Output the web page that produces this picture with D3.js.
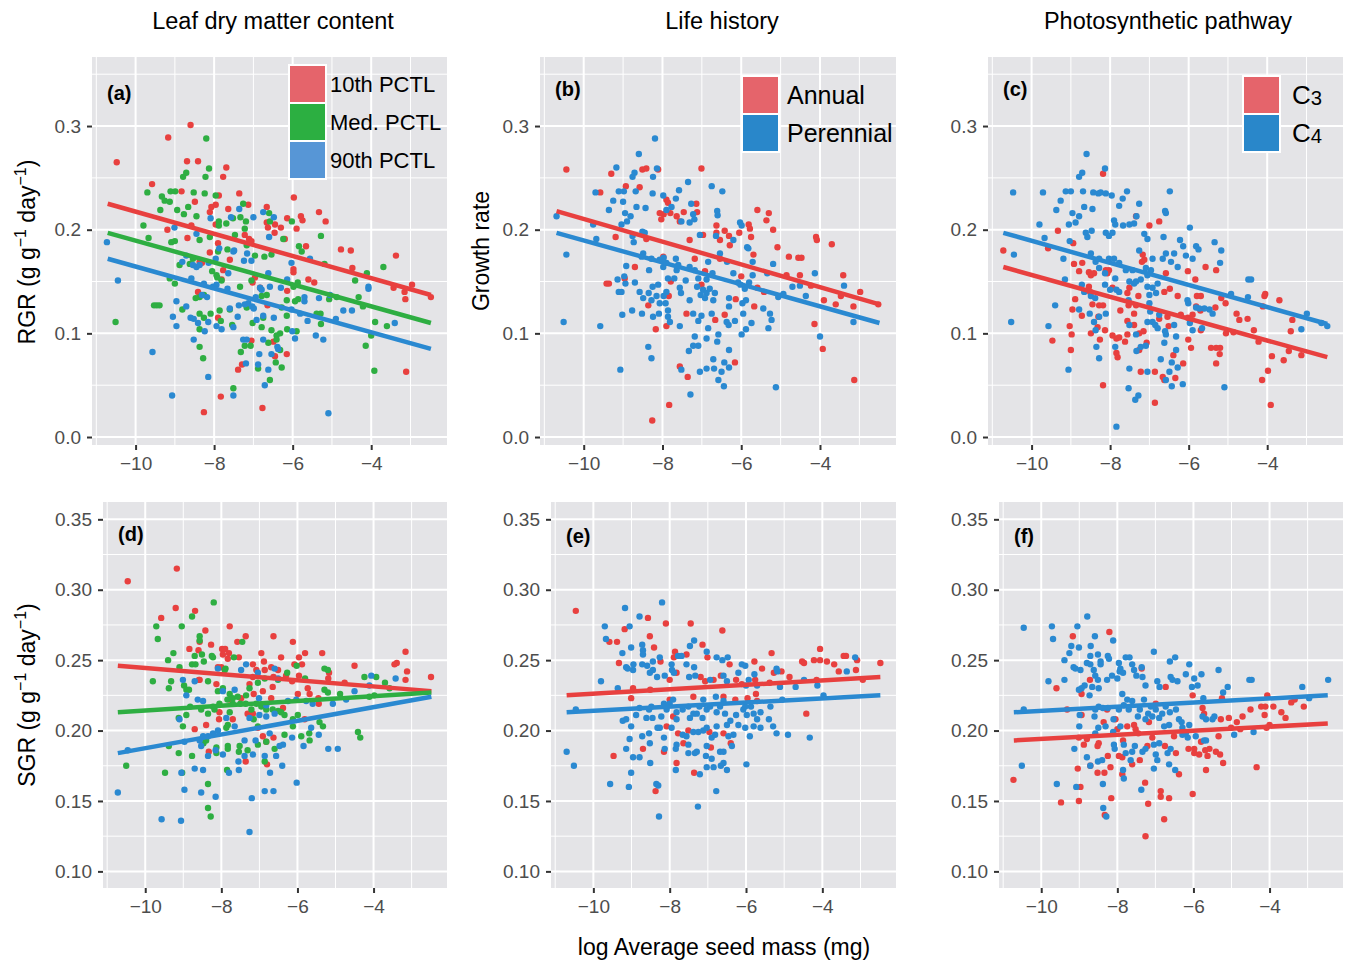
<!DOCTYPE html>
<html>
<head>
<meta charset="utf-8">
<title>Growth rate vs seed mass</title>
<script src="https://d3js.org/d3.v7.min.js"></script>
<style>
  body { margin: 0; background: #fff; }
  text { font-family: "Liberation Sans", Arial, Helvetica, sans-serif; }
</style>
</head>
<body>
<script>
// ---- axes / ticks ----
const xDomain = [-11.11, -2.07];
const topYDomain = [-0.0077, 0.3666];
const botYDomain = [0.0882, 0.3623];
const xTicks = [-10, -8, -6, -4];
const xMinor = [-11, -9, -7, -5, -3];
const topYTicks = [0.0, 0.1, 0.2, 0.3];
const topYMinor = [0.05, 0.15, 0.25, 0.35];
const botYTicks = [0.10, 0.15, 0.20, 0.25, 0.30, 0.35];
const botYMinor = [0.125, 0.175, 0.225, 0.275, 0.325];

const colTitles = ["Leaf dry matter content", "Life history", "Photosynthetic pathway"];
const ldmcLabels = ["10th PCTL", "Med. PCTL", "90th PCTL"];
const lifeLabels = ["Annual", "Perennial"];
const pathLabels = [["C", "3"], ["C", "4"]];

// ---- (a) RGR by LDMC ----
const rgrLdmc10 = [[-10.48,.265],[-8.60,.301],[-9.17,.289],[-8.69,.266],[-8.41,.266],[-7.69,.260],[-7.77,.251],[-9.58,.244],[-8.83,.237],[-7.88,.233],[-7.36,.235],[-7.13,.224],[-6.66,.222],[-8.49,.227],[-8.07,.222],[-7.96,.224],[-7.64,.220],[-8.11,.217],[-5.97,.231],[-5.33,.217],[-5.16,.208],[-5.79,.213],[-5.75,.209],[-5.90,.201],[-6.14,.211],[-6.66,.207],[-6.45,.205],[-6.30,.202],[-6.63,.202],[-6.46,.197],[-6.20,.191],[-9.19,.200],[-8.58,.204],[-7.96,.205],[-7.22,.195],[-7.11,.191],[-7.05,.189],[-7.90,.187],[-8.11,.178],[-5.66,.184],[-4.77,.181],[-4.52,.180],[-3.37,.175],[-4.48,.163],[-5.98,.162],[-5.98,.159],[-7.77,.161],[-7.81,.152],[-7.60,.171],[-8.31,.168],[-5.60,.152],[-5.45,.149],[-3.43,.144],[-3.15,.140],[-2.96,.147],[-3.13,.133],[-2.48,.135],[-8.41,.140],[-7.02,.149],[-6.96,.154],[-6.83,.144],[-6.14,.141],[-6.64,.127],[-7.90,.115],[-7.05,.093],[-6.49,.092],[-6.45,.078],[-6.15,.080],[-7.39,.065],[-7.29,.070],[-7.83,.039],[-8.26,.024],[-6.77,.028],[-3.11,.063],[-8.68,.192],[-8.37,.169]];
const rgrLdmcMed = [[-8.20,.288],[-8.13,.259],[-8.22,.251],[-8.71,.255],[-8.79,.251],[-9.70,.236],[-9.33,.232],[-9.26,.228],[-9.13,.227],[-9.11,.237],[-8.99,.237],[-8.94,.219],[-8.77,.215],[-8.66,.222],[-8.52,.236],[-8.24,.235],[-7.96,.233],[-8.45,.213],[-9.37,.219],[-9.80,.204],[-9.67,.192],[-9.09,.188],[-9.00,.189],[-8.37,.190],[-8.11,.193],[-7.88,.208],[-7.88,.204],[-7.69,.206],[-7.52,.211],[-7.33,.212],[-7.19,.208],[-7.22,.201],[-7.26,.225],[-6.60,.216],[-6.58,.208],[-6.02,.208],[-5.28,.194],[-6.24,.191],[-5.84,.184],[-5.77,.179],[-5.19,.167],[-3.69,.164],[-4.11,.158],[-4.41,.151],[-4.32,.135],[-4.21,.126],[-3.90,.111],[-3.60,.107],[-4.14,.088],[-4.00,.098],[-3.92,.064],[-5.28,.109],[-5.39,.119],[-5.29,.119],[-5.07,.133],[-4.88,.135],[-5.87,.149],[-5.98,.145],[-5.86,.133],[-5.94,.131],[-6.15,.132],[-6.28,.125],[-6.15,.117],[-6.14,.104],[-5.90,.102],[-6.54,.103],[-6.32,.100],[-6.41,.098],[-6.62,.091],[-6.41,.094],[-6.32,.084],[-6.88,.066],[-6.43,.072],[-6.28,.067],[-6.58,.055],[-7.51,.047],[-7.32,.082],[-7.22,.088],[-7.07,.088],[-6.79,.106],[-6.75,.115],[-7.02,.110],[-7.17,.125],[-7.34,.145],[-7.05,.151],[-6.79,.136],[-6.66,.137],[-6.72,.174],[-6.54,.176],[-6.96,.175],[-7.17,.185],[-7.47,.195],[-7.66,.181],[-7.90,.179],[-8.05,.160],[-7.94,.156],[-7.81,.151],[-7.92,.154],[-8.54,.172],[-8.62,.167],[-8.88,.166],[-9.13,.153],[-9.00,.148],[-9.53,.127],[-9.46,.127],[-9.39,.127],[-10.51,.111],[-8.81,.123],[-8.37,.135],[-8.26,.137],[-8.37,.119],[-8.26,.115],[-8.09,.119],[-7.86,.122],[-7.83,.112],[-7.60,.123],[-7.54,.108],[-8.37,.104],[-8.37,.087],[-8.28,.076],[-8.47,.134]];
const rgrLdmc90 = [[-10.73,.188],[-10.45,.151],[-9.57,.082],[-9.07,.040],[-9.01,.202],[-8.45,.196],[-8.09,.211],[-7.57,.212],[-7.36,.220],[-7.00,.212],[-6.75,.217],[-6.48,.212],[-6.60,.193],[-7.87,.182],[-7.51,.179],[-7.49,.180],[-7.16,.177],[-7.24,.170],[-7.05,.170],[-7.96,.172],[-8.71,.175],[-8.81,.169],[-8.54,.166],[-8.45,.164],[-8.37,.166],[-8.14,.168],[-7.64,.158],[-6.62,.158],[-6.03,.168],[-5.56,.172],[-6.30,.144],[-6.14,.152],[-6.83,.144],[-6.79,.142],[-6.58,.145],[-6.94,.135],[-7.13,.129],[-7.22,.128],[-7.03,.126],[-6.99,.124],[-7.37,.127],[-7.40,.116],[-6.92,.113],[-6.75,.117],[-6.48,.115],[-6.03,.123],[-5.81,.119],[-5.70,.131],[-5.70,.135],[-5.62,.112],[-5.33,.134],[-5.05,.137],[-4.71,.122],[-4.49,.122],[-4.90,.114],[-4.07,.145],[-4.07,.143],[-3.40,.110],[-5.22,.094],[-5.41,.098],[-6.01,.102],[-5.94,.095],[-6.37,.085],[-6.39,.087],[-6.54,.080],[-6.75,.094],[-7.26,.094],[-7.17,.094],[-6.85,.080],[-6.88,.070],[-7.19,.071],[-6.62,.065],[-6.71,.050],[-5.09,.023],[-7.51,.040],[-8.15,.058],[-8.52,.094],[-8.24,.102],[-8.15,.111],[-8.60,.115],[-8.52,.114],[-8.41,.110],[-8.31,.137],[-8.18,.135],[-8.71,.126],[-8.96,.131],[-9.05,.116],[-8.96,.107],[-7.94,.107],[-7.81,.104],[-7.94,.147],[-8.03,.145],[-7.66,.143],[-7.60,.124],[-7.51,.106],[-8.58,.153],[-8.26,.148]];

// ---- (b) RGR by life history ----
const rgrAnnual = [[-10.44,.258],[-9.30,.254],[-9.58,.236],[-8.93,.242],[-8.58,.241],[-8.51,.258],[-8.41,.259],[-8.11,.258],[-7.01,.259],[-7.90,.229],[-7.86,.226],[-8.07,.216],[-7.97,.215],[-7.80,.216],[-7.64,.213],[-7.46,.217],[-7.14,.225],[-7.12,.217],[-8.03,.210],[-7.56,.208],[-5.59,.219],[-5.30,.216],[-5.36,.209],[-5.19,.200],[-5.81,.205],[-5.78,.201],[-5.75,.193],[-6.05,.197],[-6.42,.199],[-6.31,.194],[-6.63,.204],[-6.63,.197],[-6.97,.195],[-5.69,.176],[-5.08,.183],[-4.79,.174],[-4.55,.173],[-4.47,.173],[-4.10,.193],[-4.08,.190],[-3.70,.186],[-3.41,.156],[-2.98,.140],[-3.47,.136],[-3.15,.126],[-2.52,.128],[-3.60,.128],[-3.90,.132],[-4.51,.156],[-4.85,.156],[-4.23,.146],[-4.14,.109],[-3.93,.085],[-3.13,.055],[-5.59,.144],[-5.42,.140],[-5.67,.126],[-6.00,.155],[-6.14,.133],[-6.42,.118],[-6.66,.113],[-6.16,.072],[-6.54,.190],[-6.54,.172],[-6.29,.185],[-7.18,.172],[-7.01,.147],[-6.92,.160],[-7.31,.190],[-7.39,.119],[-7.56,.068],[-7.36,.058],[-7.83,.031],[-8.26,.016],[-8.17,.104],[-7.90,.107],[-7.84,.136],[-7.79,.150],[-7.98,.174],[-8.70,.164],[-9.19,.193],[-9.42,.148],[-9.36,.148],[-8.96,.153],[-8.36,.127],[-8.41,.191]];
const rgrPerennial = [[-10.69,.213],[-10.44,.176],[-10.51,.111],[-9.76,.205],[-9.68,.191],[-9.70,.236],[-9.58,.107],[-9.36,.219],[-9.17,.260],[-9.25,.228],[-9.11,.237],[-8.98,.237],[-9.00,.227],[-8.95,.216],[-9.04,.205],[-8.90,.208],[-8.81,.213],[-8.76,.251],[-8.71,.255],[-8.60,.273],[-8.68,.237],[-8.66,.222],[-8.76,.194],[-8.73,.188],[-8.51,.198],[-8.45,.197],[-8.43,.221],[-8.24,.251],[-8.19,.288],[-8.14,.259],[-8.25,.235],[-7.98,.233],[-7.90,.219],[-7.77,.222],[-7.66,.230],[-7.58,.238],[-7.35,.246],[-7.27,.225],[-7.22,.215],[-7.52,.208],[-7.31,.207],[-7.19,.210],[-7.05,.195],[-6.75,.242],[-6.48,.237],[-6.61,.218],[-6.60,.214],[-6.64,.194],[-6.20,.190],[-6.03,.207],[-5.99,.204],[-5.85,.183],[-5.82,.182],[-5.71,.169],[-5.19,.167],[-5.34,.158],[-5.71,.156],[-5.80,.149],[-5.91,.143],[-6.02,.147],[-6.08,.149],[-6.20,.158],[-6.36,.169],[-6.54,.177],[-6.84,.169],[-6.73,.158],[-6.88,.152],[-7.09,.153],[-7.18,.161],[-7.31,.164],[-7.41,.151],[-7.56,.144],[-7.31,.132],[-7.12,.145],[-6.97,.142],[-6.88,.139],[-6.80,.143],[-6.67,.139],[-7.03,.137],[-6.92,.134],[-6.71,.132],[-6.31,.134],[-6.31,.126],[-5.97,.129],[-5.88,.132],[-5.95,.119],[-5.74,.110],[-5.88,.104],[-5.99,.099],[-6.16,.112],[-6.37,.111],[-6.32,.108],[-6.58,.099],[-6.61,.092],[-6.84,.105],[-6.88,.095],[-6.75,.119],[-7.01,.117],[-7.09,.112],[-7.22,.119],[-7.18,.097],[-7.09,.088],[-7.22,.088],[-7.33,.083],[-6.71,.075],[-6.88,.066],[-6.69,.066],[-6.58,.055],[-6.50,.063],[-6.44,.049],[-6.31,.084],[-6.31,.067],[-6.43,.072],[-7.05,.063],[-7.29,.041],[-7.52,.065],[-7.56,.107],[-7.81,.111],[-7.86,.116],[-7.86,.122],[-7.92,.129],[-7.97,.136],[-8.07,.129],[-8.15,.136],[-8.35,.139],[-8.28,.132],[-8.24,.116],[-8.09,.119],[-8.52,.119],[-8.77,.122],[-9.02,.118],[-9.04,.140],[-8.94,.148],[-8.97,.155],[-8.70,.149],[-8.58,.140],[-8.49,.134],[-8.53,.174],[-8.49,.177],[-8.28,.172],[-8.07,.171],[-7.98,.164],[-7.90,.168],[-8.34,.161],[-8.25,.145],[-8.11,.147],[-7.86,.153],[-7.90,.140],[-7.70,.153],[-7.64,.161],[-7.60,.166],[-7.53,.139],[-7.66,.172],[-8.92,.165],[-9.14,.152],[-9.11,.140],[-9.07,.065],[-8.36,.087],[-8.28,.076],[-7.97,.173],[-5.06,.135],[-4.93,.138],[-4.70,.145],[-4.51,.146],[-4.36,.136],[-4.13,.158],[-3.39,.146],[-3.15,.111],[-4.00,.097],[-5.12,.048],[-5.44,.124],[-5.27,.119],[-5.23,.113],[-5.31,.105]];

// ---- (c) RGR by photosynthetic pathway ----
const rgrC3 = [[-10.72,.180],[-9.58,.182],[-9.33,.199],[-9.47,.093],[-9.03,.107],[-8.98,.099],[-9.00,.084],[-8.96,.123],[-8.92,.167],[-8.79,.160],[-8.71,.168],[-8.72,.117],[-8.89,.133],[-8.94,.187],[-8.54,.159],[-8.49,.156],[-8.41,.158],[-8.54,.145],[-8.51,.140],[-8.45,.128],[-8.28,.127],[-8.18,.127],[-8.49,.100],[-8.32,.106],[-8.26,.094],[-8.30,.116],[-8.13,.103],[-8.18,.050],[-8.11,.161],[-8.07,.158],[-8.03,.161],[-8.18,.254],[-7.94,.144],[-7.74,.122],[-7.94,.098],[-7.84,.095],[-7.77,.096],[-7.84,.081],[-7.81,.077],[-7.62,.092],[-7.56,.099],[-7.56,.112],[-7.53,.127],[-7.34,.127],[-7.39,.119],[-7.39,.108],[-7.56,.139],[-7.51,.144],[-7.34,.213],[-7.28,.136],[-7.17,.176],[-7.19,.169],[-7.13,.171],[-7.00,.204],[-6.75,.208],[-7.26,.100],[-7.15,.102],[-7.07,.091],[-7.26,.084],[-7.22,.063],[-6.86,.063],[-6.86,.033],[-6.66,.058],[-6.62,.055],[-6.75,.114],[-6.62,.140],[-6.58,.158],[-6.54,.116],[-6.48,.143],[-6.51,.107],[-6.28,.136],[-6.20,.118],[-6.39,.079],[-6.14,.071],[-6.34,.057],[-6.02,.160],[-6.01,.094],[-5.94,.086],[-6.02,.115],[-5.90,.118],[-5.83,.152],[-5.79,.136],[-5.69,.136],[-5.81,.126],[-5.70,.122],[-5.69,.103],[-5.57,.164],[-5.30,.161],[-5.43,.086],[-5.30,.086],[-5.20,.086],[-5.30,.071],[-5.21,.080],[-5.32,.125],[-5.17,.134],[-5.06,.129],[-5.05,.100],[-4.86,.101],[-4.78,.119],[-4.71,.113],[-4.50,.114],[-4.34,.103],[-4.22,.092],[-4.11,.126],[-4.07,.136],[-4.05,.138],[-4.13,.055],[-3.98,.064],[-3.91,.031],[-3.88,.078],[-3.69,.132],[-3.58,.074],[-3.45,.083],[-3.40,.102],[-3.36,.113],[-3.13,.079]];
const rgrC4 = [[-10.47,.236],[-10.45,.176],[-10.52,.111],[-9.80,.205],[-9.67,.192],[-9.71,.236],[-9.57,.107],[-9.40,.127],[-9.37,.219],[-9.26,.228],[-9.19,.172],[-9.13,.237],[-9.05,.205],[-9.00,.237],[-8.96,.216],[-8.88,.207],[-8.79,.213],[-9.03,.189],[-9.15,.152],[-9.06,.065],[-8.72,.147],[-8.79,.123],[-8.79,.251],[-8.71,.255],[-8.60,.273],[-8.69,.237],[-8.66,.222],[-8.62,.197],[-8.58,.193],[-8.47,.199],[-8.45,.220],[-8.43,.236],[-8.30,.235],[-8.24,.236],[-8.11,.235],[-7.96,.233],[-8.13,.259],[-8.49,.177],[-8.37,.169],[-8.28,.172],[-8.11,.197],[-8.03,.194],[-7.94,.197],[-7.90,.209],[-7.87,.205],[-7.77,.223],[-7.68,.230],[-7.57,.237],[-7.67,.204],[-7.51,.205],[-7.39,.206],[-7.33,.213],[-7.26,.225],[-7.13,.196],[-7.05,.191],[-7.26,.180],[-6.48,.237],[-6.60,.218],[-6.58,.216],[-6.64,.193],[-6.22,.190],[-5.97,.202],[-6.14,.184],[-6.07,.175],[-5.81,.184],[-5.75,.181],[-5.90,.172],[-5.34,.188],[-5.17,.180],[-5.20,.168],[-6.28,.164],[-6.37,.177],[-6.58,.177],[-6.66,.172],[-6.45,.169],[-6.92,.172],[-6.96,.161],[-7.09,.163],[-7.05,.156],[-7.22,.152],[-7.34,.150],[-7.43,.161],[-7.60,.161],[-7.77,.168],[-7.90,.172],[-8.03,.172],[-8.13,.158],[-7.87,.153],[-7.84,.142],[-8.00,.142],[-8.13,.147],[-8.28,.163],[-8.66,.140],[-8.49,.136],[-8.38,.134],[-8.52,.119],[-8.41,.111],[-8.37,.103],[-8.11,.119],[-8.28,.116],[-8.28,.076],[-8.35,.087],[-7.87,.087],[-7.77,.140],[-7.51,.150],[-7.39,.148],[-7.53,.132],[-7.51,.108],[-7.34,.099],[-7.33,.083],[-7.22,.087],[-7.09,.088],[-7.05,.145],[-7.00,.137],[-6.92,.144],[-6.83,.139],[-6.79,.148],[-7.00,.129],[-6.98,.121],[-7.05,.111],[-6.92,.111],[-6.79,.105],[-6.85,.108],[-6.75,.118],[-6.58,.099],[-6.62,.091],[-6.60,.102],[-6.37,.108],[-6.32,.097],[-6.32,.084],[-6.43,.072],[-6.28,.067],[-6.49,.063],[-6.71,.075],[-7.05,.063],[-7.51,.066],[-7.53,.047],[-7.28,.040],[-7.36,.036],[-7.84,.010],[-6.58,.055],[-6.43,.049],[-6.15,.051],[-5.09,.048],[-6.03,.132],[-6.01,.129],[-5.97,.110],[-5.90,.103],[-5.81,.125],[-5.73,.124],[-5.60,.124],[-5.47,.123],[-5.39,.119],[-5.66,.105],[-4.92,.138],[-4.48,.152],[-4.41,.152],[-4.49,.135],[-2.99,.119],[-3.13,.104],[-2.47,.107],[-2.62,.110]];

// ---- (d) SGR by LDMC ----
const sgrLdmc10 = [[-10.46,.306],[-9.17,.315],[-9.20,.287],[-9.58,.280],[-8.69,.285],[-8.84,.258],[-8.57,.263],[-8.60,.257],[-8.42,.271],[-8.27,.261],[-7.78,.274],[-7.36,.267],[-7.58,.263],[-7.98,.258],[-7.90,.258],[-7.80,.255],[-7.96,.254],[-7.83,.251],[-7.54,.252],[-6.95,.255],[-6.88,.249],[-6.63,.267],[-6.43,.252],[-6.12,.263],[-5.96,.252],[-5.80,.255],[-5.88,.247],[-6.08,.247],[-5.35,.255],[-4.50,.246],[-3.16,.256],[-3.39,.248],[-3.45,.247],[-3.12,.242],[-3.16,.236],[-2.49,.238],[-5.17,.241],[-5.19,.237],[-7.17,.247],[-7.08,.243],[-6.86,.243],[-6.69,.245],[-6.51,.243],[-6.63,.238],[-7.17,.238],[-8.09,.245],[-8.00,.245],[-8.13,.233],[-8.57,.236],[-7.26,.233],[-7.15,.226],[-6.91,.228],[-6.65,.231],[-6.69,.223],[-6.30,.239],[-6.14,.235],[-5.96,.239],[-5.99,.226],[-5.73,.230],[-5.68,.226],[-5.45,.223],[-5.44,.219],[-4.76,.234],[-7.78,.222],[-7.48,.223],[-8.05,.213],[-8.06,.208],[-7.70,.208],[-7.31,.212],[-7.17,.212],[-7.04,.202],[-6.91,.196],[-6.82,.192],[-6.63,.195],[-6.38,.216],[-5.81,.208],[-8.40,.204],[-8.70,.201],[-8.33,.185],[-7.36,.178],[-6.80,.176],[-8.59,.236]];
const sgrLdmcMed = [[-9.71,.274],[-9.67,.265],[-9.04,.274],[-8.77,.281],[-8.20,.291],[-8.57,.267],[-8.57,.264],[-7.45,.263],[-9.26,.255],[-9.40,.250],[-9.10,.245],[-8.70,.253],[-8.51,.254],[-8.77,.247],[-8.68,.247],[-8.46,.249],[-8.25,.253],[-8.22,.252],[-7.67,.252],[-7.89,.244],[-7.91,.243],[-9.80,.235],[-9.32,.235],[-9.38,.230],[-8.98,.232],[-8.92,.229],[-8.85,.229],[-8.35,.235],[-8.09,.228],[-7.96,.230],[-7.78,.226],[-7.84,.222],[-7.70,.223],[-7.57,.224],[-7.35,.225],[-7.26,.230],[-7.04,.234],[-6.86,.237],[-6.51,.236],[-6.27,.241],[-6.02,.246],[-5.80,.237],[-5.29,.244],[-5.20,.243],[-4.24,.238],[-3.93,.238],[-3.70,.234],[-3.58,.230],[-5.29,.229],[-5.20,.227],[-4.88,.226],[-4.11,.224],[-3.98,.225],[-4.41,.199],[-4.35,.195],[-5.33,.203],[-5.42,.206],[-5.68,.193],[-5.90,.196],[-5.69,.198],[-6.12,.203],[-6.12,.208],[-5.99,.211],[-6.34,.211],[-6.43,.213],[-6.51,.214],[-6.65,.215],[-6.82,.215],[-6.95,.217],[-7.08,.219],[-7.21,.215],[-7.36,.219],[-7.50,.219],[-7.70,.219],[-7.78,.213],[-8.05,.219],[-8.22,.217],[-8.35,.212],[-8.53,.215],[-8.82,.217],[-8.92,.211],[-9.12,.209],[-9.01,.203],[-8.47,.191],[-8.40,.193],[-8.13,.188],[-8.13,.184],[-8.18,.215],[-7.83,.204],[-7.87,.202],[-7.83,.189],[-7.83,.187],[-7.52,.189],[-7.54,.185],[-7.31,.186],[-7.04,.190],[-6.82,.192],[-6.60,.187],[-6.34,.197],[-7.04,.203],[-7.15,.208],[-9.12,.184],[-9.38,.189],[-9.48,.170],[-9.03,.170],[-8.77,.182],[-8.35,.162],[-8.35,.145],[-8.28,.139],[-10.50,.175],[-7.85,.172],[-6.86,.178]];
const sgrLdmc90 = [[-10.72,.156],[-10.46,.186],[-9.57,.137],[-9.06,.136],[-7.26,.128],[-9.01,.236],[-8.70,.235],[-8.92,.225],[-8.62,.222],[-8.48,.221],[-8.09,.244],[-7.96,.228],[-7.65,.229],[-7.35,.247],[-7.48,.243],[-7.04,.241],[-6.60,.244],[-6.51,.237],[-7.01,.223],[-6.82,.218],[-6.60,.212],[-6.25,.221],[-6.03,.222],[-5.77,.221],[-5.60,.219],[-5.07,.219],[-4.72,.222],[-4.50,.228],[-4.11,.232],[-4.06,.239],[-3.42,.237],[-5.19,.187],[-4.94,.187],[-5.44,.197],[-5.64,.202],[-5.84,.189],[-6.14,.195],[-6.38,.190],[-6.47,.189],[-6.73,.198],[-6.82,.210],[-7.00,.211],[-7.26,.209],[-7.10,.193],[-7.39,.193],[-7.65,.203],[-7.87,.209],[-8.09,.200],[-8.22,.198],[-8.35,.196],[-8.48,.196],[-8.57,.193],[-8.53,.189],[-8.35,.182],[-8.15,.186],[-7.96,.183],[-7.80,.170],[-7.54,.172],[-7.55,.178],[-7.39,.182],[-7.17,.183],[-6.86,.182],[-6.56,.182],[-6.72,.170],[-6.40,.175],[-8.70,.173],[-8.48,.172],[-9.05,.170],[-8.97,.158],[-8.53,.156],[-8.15,.153],[-7.20,.152],[-6.86,.157],[-6.63,.157],[-6.02,.163],[-8.97,.192],[-9.10,.208]];

// ---- (e) SGR by life history ----
const sgrAnnual = [[-10.46,.285],[-9.58,.263],[-9.38,.263],[-9.18,.272],[-9.33,.248],[-8.57,.280],[-8.52,.267],[-8.41,.259],[-8.24,.249],[-8.10,.276],[-7.86,.256],[-7.89,.252],[-7.82,.241],[-8.00,.236],[-7.56,.254],[-7.45,.276],[-7.14,.261],[-7.01,.252],[-6.62,.271],[-6.43,.247],[-7.19,.238],[-7.07,.235],[-6.85,.236],[-6.66,.239],[-6.26,.236],[-6.11,.233],[-5.78,.249],[-5.76,.236],[-5.58,.244],[-5.33,.255],[-5.27,.241],[-5.07,.242],[-4.86,.238],[-4.53,.249],[-4.48,.248],[-4.22,.250],[-4.06,.258],[-4.06,.250],[-3.88,.249],[-3.69,.247],[-3.57,.242],[-3.44,.253],[-3.38,.253],[-3.09,.250],[-3.12,.243],[-2.94,.236],[-2.48,.248],[-4.15,.236],[-4.42,.212],[-5.38,.234],[-5.74,.226],[-5.96,.223],[-5.71,.221],[-6.28,.222],[-6.59,.224],[-7.38,.224],[-8.00,.222],[-8.96,.230],[-9.01,.223],[-8.51,.229],[-8.08,.203],[-7.91,.210],[-7.78,.198],[-7.64,.191],[-7.51,.200],[-6.96,.199],[-6.92,.188],[-6.59,.198],[-6.40,.191],[-8.70,.187],[-8.15,.185],[-9.47,.182],[-7.82,.177],[-7.36,.170],[-8.37,.157]];
const sgrPerennial = [[-10.70,.185],[-10.51,.175],[-10.46,.215],[-9.80,.235],[-9.70,.274],[-9.67,.265],[-9.56,.162],[-9.36,.230],[-9.24,.255],[-9.17,.287],[-9.05,.274],[-9.01,.259],[-9.14,.245],[-9.10,.244],[-8.96,.243],[-8.95,.247],[-8.79,.281],[-8.72,.261],[-8.70,.257],[-8.70,.254],[-8.72,.247],[-8.59,.246],[-8.52,.241],[-8.44,.249],[-8.44,.243],[-8.33,.238],[-8.26,.252],[-8.20,.291],[-8.13,.239],[-7.95,.247],[-7.94,.243],[-7.89,.241],[-7.78,.253],[-7.69,.253],[-7.56,.247],[-7.47,.260],[-7.36,.264],[-7.36,.245],[-7.33,.239],[-7.49,.238],[-7.03,.256],[-6.94,.236],[-6.77,.252],[-6.62,.250],[-6.48,.252],[-6.59,.239],[-6.50,.235],[-6.20,.241],[-6.11,.247],[-6.02,.246],[-5.93,.236],[-6.00,.232],[-5.78,.240],[-5.71,.232],[-5.20,.244],[-5.18,.242],[-5.11,.231],[-4.70,.231],[-4.48,.236],[-4.13,.232],[-3.97,.225],[-3.36,.242],[-3.14,.252],[-9.23,.207],[-9.14,.208],[-9.01,.203],[-9.05,.194],[-9.14,.187],[-8.96,.181],[-9.01,.170],[-9.07,.160],[-8.79,.181],[-8.72,.196],[-8.88,.211],[-8.79,.216],[-8.61,.209],[-8.54,.215],[-8.48,.217],[-8.45,.209],[-8.51,.177],[-8.54,.198],[-8.52,.191],[-8.32,.202],[-8.26,.202],[-8.35,.162],[-8.30,.161],[-8.28,.139],[-8.22,.210],[-8.15,.219],[-8.08,.215],[-8.00,.219],[-7.91,.222],[-7.82,.213],[-7.82,.208],[-7.95,.202],[-8.15,.195],[-8.13,.187],[-7.82,.190],[-7.84,.187],[-7.84,.172],[-7.66,.197],[-7.56,.196],[-7.51,.190],[-7.51,.184],[-7.66,.215],[-7.51,.217],[-7.47,.209],[-7.38,.212],[-7.29,.212],[-7.22,.217],[-7.12,.222],[-7.03,.215],[-6.94,.217],[-7.14,.209],[-7.12,.200],[-7.03,.202],[-7.38,.199],[-7.25,.199],[-7.34,.184],[-7.29,.185],[-7.21,.169],[-7.03,.174],[-7.05,.182],[-7.03,.189],[-6.90,.180],[-6.85,.174],[-6.90,.195],[-6.81,.197],[-6.77,.203],[-6.77,.213],[-6.68,.217],[-6.59,.221],[-6.79,.224],[-6.68,.185],[-6.59,.185],[-6.59,.177],[-6.66,.175],[-6.50,.172],[-6.78,.157],[-7.26,.146],[-6.55,.212],[-6.50,.204],[-6.41,.207],[-6.46,.196],[-6.33,.197],[-6.37,.189],[-6.26,.211],[-6.20,.204],[-6.07,.215],[-5.98,.211],[-6.02,.202],[-5.90,.196],[-5.99,.176],[-5.87,.217],[-5.80,.212],[-5.80,.203],[-5.71,.208],[-5.62,.202],[-5.62,.213],[-5.40,.208],[-5.29,.203],[-5.20,.198],[-5.36,.217],[-5.05,.222],[-4.90,.197],[-4.33,.195],[-6.02,.217]];

// ---- (f) SGR by photosynthetic pathway ----
const sgrC3 = [[-10.73,.165],[-9.48,.149],[-9.60,.230],[-9.32,.215],[-9.17,.267],[-8.94,.226],[-8.94,.211],[-9.01,.195],[-9.04,.173],[-8.97,.160],[-9.01,.150],[-8.88,.190],[-8.80,.194],[-8.72,.236],[-8.71,.175],[-8.52,.170],[-8.52,.189],[-8.49,.191],[-8.36,.206],[-8.34,.170],[-8.33,.140],[-8.25,.182],[-8.21,.270],[-8.18,.174],[-8.16,.152],[-8.05,.208],[-8.00,.201],[-7.96,.182],[-7.87,.181],[-7.87,.169],[-7.85,.193],[-7.74,.203],[-7.61,.176],[-7.56,.204],[-7.52,.201],[-7.45,.198],[-7.41,.179],[-7.36,.244],[-7.27,.163],[-7.26,.125],[-7.21,.189],[-7.19,.148],[-7.17,.206],[-7.08,.195],[-6.99,.219],[-6.86,.157],[-6.86,.153],[-6.77,.137],[-6.75,.189],[-6.73,.231],[-6.64,.152],[-6.51,.196],[-6.46,.184],[-6.38,.169],[-6.13,.187],[-6.02,.155],[-6.02,.225],[-5.98,.187],[-5.98,.184],[-5.85,.183],[-5.80,.192],[-5.76,.216],[-5.72,.212],[-5.69,.186],[-5.67,.172],[-5.63,.182],[-5.58,.187],[-5.41,.185],[-5.34,.196],[-5.30,.183],[-5.28,.208],[-5.25,.223],[-5.22,.177],[-5.07,.209],[-5.01,.202],[-4.86,.206],[-4.71,.210],[-4.50,.215],[-4.34,.174],[-4.22,.217],[-4.13,.211],[-4.11,.217],[-4.06,.225],[-4.08,.202],[-4.00,.204],[-3.90,.217],[-3.69,.213],[-3.58,.209],[-3.43,.220],[-3.34,.222],[-3.10,.217],[-4.77,.201],[-8.27,.215]];
const sgrC4 = [[-10.46,.273],[-10.51,.175],[-10.46,.215],[-9.81,.235],[-9.72,.274],[-9.69,.265],[-9.59,.162],[-9.39,.250],[-9.39,.236],[-9.26,.255],[-9.21,.260],[-9.15,.245],[-9.10,.244],[-9.05,.274],[-9.01,.259],[-8.97,.243],[-9.01,.229],[-8.94,.230],[-8.86,.232],[-8.79,.281],[-8.80,.248],[-8.70,.260],[-8.71,.253],[-8.71,.247],[-8.62,.243],[-8.59,.267],[-8.58,.239],[-8.51,.254],[-8.44,.249],[-8.44,.247],[-8.49,.230],[-8.73,.225],[-8.66,.231],[-8.51,.236],[-8.25,.253],[-8.22,.251],[-8.11,.264],[-8.27,.236],[-8.14,.239],[-8.00,.237],[-7.96,.248],[-7.94,.242],[-7.92,.244],[-7.85,.241],[-7.78,.252],[-7.68,.252],[-7.61,.247],[-7.56,.243],[-7.50,.239],[-7.36,.245],[-7.34,.238],[-7.26,.232],[-7.04,.256],[-6.95,.235],[-6.89,.231],[-6.62,.249],[-6.48,.252],[-6.60,.238],[-6.55,.236],[-6.42,.235],[-6.20,.240],[-6.11,.247],[-6.04,.231],[-5.98,.237],[-5.89,.232],[-5.79,.240],[-5.74,.223],[-5.34,.243],[-5.22,.227],[-5.10,.231],[-4.53,.236],[-4.47,.236],[-3.14,.231],[-2.96,.223],[-2.46,.236],[-4.42,.199],[-4.93,.197],[-5.45,.210],[-5.50,.208],[-5.67,.208],[-5.76,.210],[-5.72,.193],[-5.67,.193],[-5.94,.196],[-6.11,.204],[-6.15,.195],[-6.20,.198],[-6.29,.202],[-6.31,.206],[-6.38,.208],[-6.46,.215],[-6.62,.213],[-6.64,.204],[-6.77,.203],[-6.73,.217],[-6.82,.212],[-6.90,.209],[-6.99,.215],[-7.08,.210],[-7.12,.217],[-7.19,.212],[-7.26,.208],[-7.30,.222],[-7.41,.215],[-7.46,.210],[-7.61,.221],[-7.70,.215],[-7.74,.222],[-7.87,.226],[-7.83,.218],[-7.96,.215],[-8.10,.208],[-7.92,.203],[-8.11,.199],[-8.25,.216],[-8.38,.216],[-8.49,.217],[-8.58,.215],[-8.60,.210],[-8.50,.202],[-8.58,.198],[-8.31,.203],[-8.99,.211],[-9.00,.203],[-9.13,.187],[-8.80,.181],[-8.71,.175],[-8.51,.178],[-8.40,.179],[-8.09,.190],[-8.07,.187],[-7.83,.190],[-7.78,.184],[-7.61,.185],[-7.54,.189],[-7.34,.185],[-7.26,.187],[-6.99,.183],[-6.95,.179],[-7.04,.173],[-6.68,.184],[-6.60,.187],[-6.64,.176],[-6.48,.172],[-6.90,.191],[-7.04,.190],[-7.85,.172],[-7.83,.166],[-7.65,.179],[-7.37,.158],[-8.38,.162],[-9.08,.160],[-8.37,.145],[-8.29,.139],[-6.29,.197]];

// ---- fitted lines, endpoints ----
const fitRgrLdmc = [[[-10.71,.225],[-2.48,.137]], [[-10.71,.197],[-2.48,.110]], [[-10.71,.172],[-2.48,.085]]];
const fitRgrLife = [[[-10.69,.218],[-2.49,.128]], [[-10.69,.197],[-2.49,.110]]];
const fitRgrPath = [[[-10.72,.164],[-2.47,.077]], [[-10.72,.197],[-2.47,.109]]];
const fitSgrLdmc = [[[-10.72,.246],[-2.48,.228]], [[-10.72,.213],[-2.48,.227]], [[-10.72,.184],[-2.48,.224]]];
const fitSgrLife = [[[-10.70,.225],[-2.48,.238]], [[-10.70,.213],[-2.48,.225]]];
const fitSgrPath = [[[-10.72,.193],[-2.47,.205]], [[-10.72,.213],[-2.47,.225]]];

// colours
const red = "#e8403f", green = "#2eae42", blue = "#2a89d1";
const keyRed = "#e5646b", keyGreen = "#2caf41", keyBlue3 = "#5796d6", keyBlue2 = "#2987ca";

const W = 1346, H = 961;
const svg = d3.select("body").append("svg")
    .attr("width", W).attr("height", H);

const panels = [
  {tag: "(a)", x0: 92,  x1: 447,  y0: 57,  y1: 445, yd: topYDomain, yt: topYTicks, ym: topYMinor, fmt: ".1f",
   groups: [rgrLdmc10, rgrLdmcMed, rgrLdmc90], cols: [red, green, blue], fits: fitRgrLdmc, tagY: 100},
  {tag: "(b)", x0: 540, x1: 896,  y0: 57,  y1: 445, yd: topYDomain, yt: topYTicks, ym: topYMinor, fmt: ".1f",
   groups: [rgrAnnual, rgrPerennial], cols: [red, blue], fits: fitRgrLife, tagY: 96},
  {tag: "(c)", x0: 988, x1: 1343, y0: 57,  y1: 445, yd: topYDomain, yt: topYTicks, ym: topYMinor, fmt: ".1f",
   groups: [rgrC3, rgrC4], cols: [red, blue], fits: fitRgrPath, tagY: 96},
  {tag: "(d)", x0: 103, x1: 447,  y0: 502, y1: 888, yd: botYDomain, yt: botYTicks, ym: botYMinor, fmt: ".2f",
   groups: [sgrLdmc10, sgrLdmcMed, sgrLdmc90], cols: [red, green, blue], fits: fitSgrLdmc, tagY: 541},
  {tag: "(e)", x0: 551, x1: 896,  y0: 502, y1: 888, yd: botYDomain, yt: botYTicks, ym: botYMinor, fmt: ".2f",
   groups: [sgrAnnual, sgrPerennial], cols: [red, blue], fits: fitSgrLife, tagY: 543},
  {tag: "(f)", x0: 999, x1: 1343, y0: 502, y1: 888, yd: botYDomain, yt: botYTicks, ym: botYMinor, fmt: ".2f",
   groups: [sgrC3, sgrC4], cols: [red, blue], fits: fitSgrPath, tagY: 543}
];

panels.forEach(p => {
  const x = d3.scaleLinear().domain(xDomain).range([p.x0, p.x1]);
  const y = d3.scaleLinear().domain(p.yd).range([p.y1, p.y0]);
  const g = svg.append("g");

  g.append("rect").attr("x", p.x0).attr("y", p.y0)
    .attr("width", p.x1 - p.x0).attr("height", p.y1 - p.y0)
    .attr("fill", "#e4e4e7");

  // minor grid
  g.selectAll(".vmin").data(xMinor).join("line")
    .attr("x1", d => x(d)).attr("x2", d => x(d)).attr("y1", p.y0).attr("y2", p.y1)
    .attr("stroke", "#fff").attr("stroke-width", 1);
  g.selectAll(".hmin").data(p.ym).join("line")
    .attr("y1", d => y(d)).attr("y2", d => y(d)).attr("x1", p.x0).attr("x2", p.x1)
    .attr("stroke", "#fff").attr("stroke-width", 1);
  // major grid
  g.selectAll(".vmaj").data(xTicks).join("line")
    .attr("x1", d => x(d)).attr("x2", d => x(d)).attr("y1", p.y0).attr("y2", p.y1)
    .attr("stroke", "#fff").attr("stroke-width", 2);
  g.selectAll(".hmaj").data(p.yt).join("line")
    .attr("y1", d => y(d)).attr("y2", d => y(d)).attr("x1", p.x0).attr("x2", p.x1)
    .attr("stroke", "#fff").attr("stroke-width", 2);

  // axes
  const xa = g.append("g").attr("transform", `translate(0,${p.y1})`)
    .call(d3.axisBottom(x).tickValues(xTicks).tickSize(5).tickPadding(7).tickFormat(d3.format("d")));
  const ya = g.append("g").attr("transform", `translate(${p.x0},0)`)
    .call(d3.axisLeft(y).tickValues(p.yt).tickSize(5).tickPadding(6).tickFormat(d3.format(p.fmt)));
  [xa, ya].forEach(a => {
    a.select(".domain").remove();
    a.selectAll(".tick line").attr("stroke", "#333").attr("stroke-width", 2);
    a.selectAll(".tick text").attr("fill", "#4d4d4d").style("font-size", "19px")
      .style("font-family", "Liberation Sans, Arial, sans-serif");
  });

  // points
  p.groups.forEach((grp, i) => {
    g.append("g").selectAll("circle").data(grp).join("circle")
      .attr("cx", d => x(d[0])).attr("cy", d => y(d[1])).attr("r", 3.2)
      .attr("fill", p.cols[i]);
  });

  // fitted lines
  const line = d3.line().x(d => x(d[0])).y(d => y(d[1]));
  p.fits.forEach((f, i) => {
    g.append("path").attr("d", line(f)).attr("stroke", p.cols[i])
      .attr("stroke-width", 4.5).attr("fill", "none");
  });

  g.append("text").attr("x", p.x0 + 15).attr("y", p.tagY)
    .attr("font-weight", "bold").style("font-size", "20px").text(p.tag);
});

// column titles
[273, 722, 1168].forEach((cx, i) => {
  svg.append("text").attr("x", cx).attr("y", 29).attr("text-anchor", "middle")
    .style("font-size", "23.5px").text(colTitles[i]);
});

// legends
function legend(x0, y0, labels, fills, keyH, fontSize, textDx, textDy) {
  const lg = svg.append("g");
  labels.forEach((lab, i) => {
    lg.append("rect").attr("x", x0).attr("y", y0 + i * keyH)
      .attr("width", 37).attr("height", keyH)
      .attr("fill", fills[i]).attr("stroke", "#fff").attr("stroke-width", 2);
    const t = lg.append("text").attr("x", x0 + 37 + textDx).attr("y", y0 + i * keyH + keyH / 2 + textDy)
      .style("font-size", fontSize + "px");
    if (Array.isArray(lab)) {
      t.append("tspan").text(lab[0]);
      t.append("tspan").style("font-size", (fontSize * 0.78) + "px").attr("dy", 1).text(lab[1]);
    } else {
      t.text(lab);
    }
  });
}
legend(289, 65, ldmcLabels, [keyRed, keyGreen, keyBlue3], 38, 22, 4, 8);
legend(742, 76, lifeLabels, [keyRed, keyBlue2], 38, 25, 8, 9);
legend(1243, 76, pathLabels, [keyRed, keyBlue2], 38, 26, 12, 9);

// y axis titles with superscripts
function unitTitle(cx, cy, lead) {
  const t = svg.append("text").attr("transform", `translate(${cx},${cy}) rotate(-90)`)
    .attr("text-anchor", "middle").style("font-size", "23px");
  t.append("tspan").text(lead + " (g g");
  t.append("tspan").attr("dy", -9).style("font-size", "16px").text("\u22121");
  t.append("tspan").attr("dy", 9).text(" day");
  t.append("tspan").attr("dy", -9).style("font-size", "16px").text("\u22121");
  t.append("tspan").attr("dy", 9).text(")");
}
unitTitle(35, 252, "RGR");
unitTitle(35, 695, "SGR");
svg.append("text").attr("transform", "translate(489,251) rotate(-90)")
  .attr("text-anchor", "middle").style("font-size", "23px").text("Growth rate");

svg.append("text").attr("x", 724).attr("y", 955).attr("text-anchor", "middle")
  .style("font-size", "23px").text("log Average seed mass (mg)");
</script>
</body>
</html>
